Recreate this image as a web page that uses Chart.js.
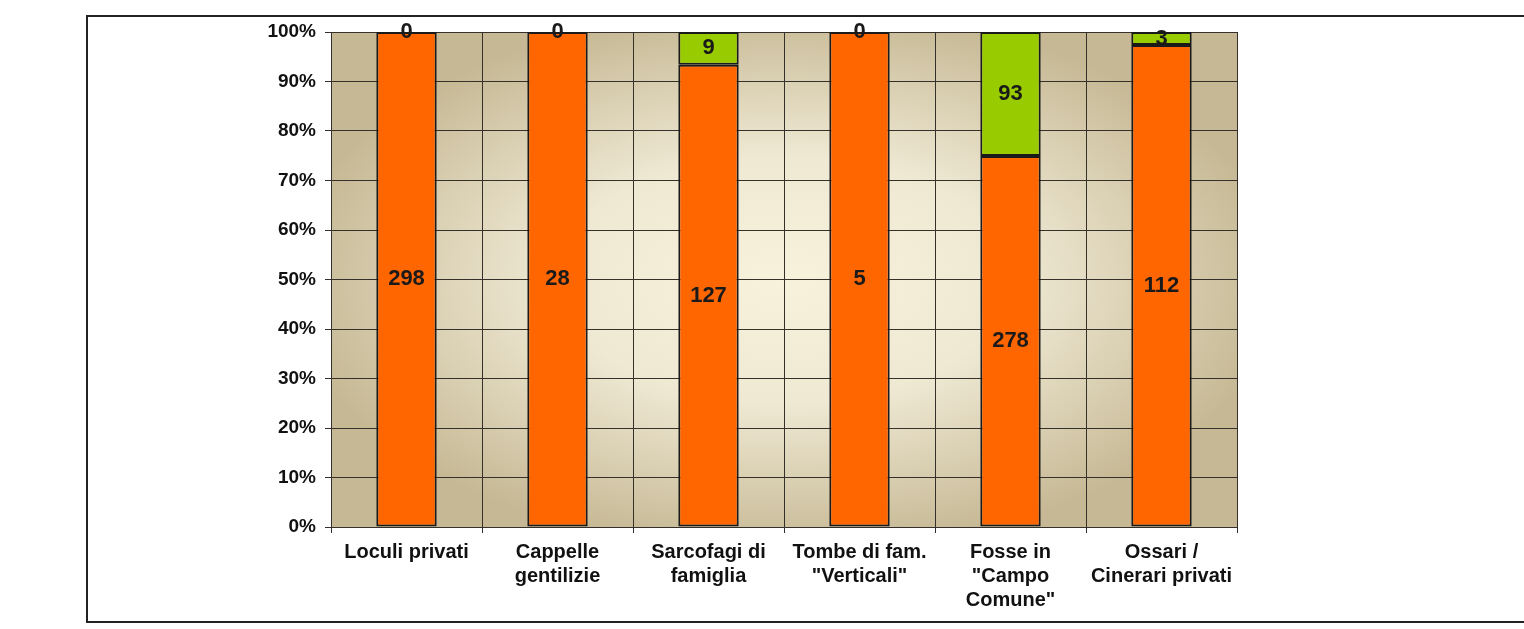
<!DOCTYPE html>
<html>
<head>
<meta charset="utf-8">
<script src="https://cdn.jsdelivr.net/npm/chart.js@4.4.1/dist/chart.umd.min.js"></script>
<style>
  html, body { margin: 0; padding: 0; background: #fff; overflow: hidden; }
  #wrap { position: relative; width: 1524px; height: 629px; }
  #frame { position: absolute; left: 86px; top: 15px; width: 1500px; height: 604px;
           border: 2px solid #222; border-right: none; }
  #myStackChart { position: absolute; left: 0; top: 0; }
</style>
</head>
<body>
<div id="wrap">
  <div id="frame"></div>
  <canvas id="myStackChart" width="1524" height="629"></canvas>
</div>
<script>
var xValues = [
    ["Loculi privati"],
    ["Cappelle", "gentilizie"],
    ["Sarcofagi di", "famiglia"],
    ["Tombe di fam.", "\"Verticali\""],
    ["Fosse in", "\"Campo", "Comune\""],
    ["Ossari /", "Cinerari privati"]
];
var orangeValues = [298, 28, 127, 5, 278, 112];
var greenValues = [0, 0, 9, 0, 93, 3];
var yTicks = [0, 10, 20, 30, 40, 50, 60, 70, 80, 90, 100];

// share of each column, in percent
function toPct(vals) {
    return vals.map(function (v, i) {
        return v / (orangeValues[i] + greenValues[i]) * 100;
    });
}

var rawValues = [orangeValues, greenValues];
var fontName = "'Liberation Sans', Arial, sans-serif";

// beige radial fill behind the plot
var bgPlugin = {
    id: "bgFill",
    beforeDraw: function (chart) {
        var a = chart.chartArea;
        var c = chart.ctx;
        var cx = (a.left + a.right) / 2;
        var cy = (a.top + a.bottom) / 2;
        var rx = (a.right - a.left) / 2;
        var ry = (a.bottom - a.top) / 2;
        c.save();
        c.beginPath();
        c.rect(a.left, a.top, a.right - a.left, a.bottom - a.top);
        c.clip();
        c.translate(cx, cy);
        c.scale(1, ry / rx);
        var g = c.createRadialGradient(0, 0, 0, 0, 0, rx * 1.1);
        g.addColorStop(0, "#f8f1dc");
        g.addColorStop(0.45, "#efe9d4");
        g.addColorStop(1, "#c6b894");
        c.fillStyle = g;
        c.fillRect(-rx * 1.2, -rx * 1.2, rx * 2.4, rx * 2.4);
        c.restore();
    }
};

// numbers in the middle of each piece
var labelPlugin = {
    id: "segLabels",
    afterDatasetsDraw: function (chart) {
        var c = chart.ctx;
        c.save();
        c.font = "bold 22px " + fontName;
        c.fillStyle = "#1a1a1a";
        c.textAlign = "center";
        c.textBaseline = "middle";
        chart.data.datasets.forEach(function (ds, di) {
            chart.getDatasetMeta(di).data.forEach(function (el, i) {
                var y = (el.y + el.base) / 2;
                c.fillText(String(rawValues[di][i]), el.x, y);
            });
        });
        c.restore();
    }
};

new Chart("myStackChart", {
    type: "bar",
    data: {
        labels: xValues,
        datasets: [{
            data: toPct(orangeValues),
            backgroundColor: "#ff6600",
            borderColor: "#1a1a1a",
            borderWidth: 2,
            borderSkipped: false,
            barPercentage: 0.4,
            categoryPercentage: 1
        }, {
            data: toPct(greenValues),
            backgroundColor: "#99cc00",
            borderColor: "#1a1a1a",
            borderWidth: 2,
            borderSkipped: false,
            barPercentage: 0.4,
            categoryPercentage: 1
        }]
    },
    options: {
        responsive: false,
        animation: false,
        layout: { padding: { left: 230, top: 32, right: 287, bottom: 0 } },
        plugins: {
            legend: { display: false },
            tooltip: { enabled: false }
        },
        scales: {
            x: {
                stacked: true,
                grid: { color: "#35302a", lineWidth: 1, tickLength: 6, offset: true },
                border: { color: "#35302a", width: 1 },
                ticks: {
                    color: "#111",
                    padding: 7,
                    maxRotation: 0,
                    autoSkip: false,
                    font: { family: fontName, size: 20, weight: "bold", lineHeight: 1.2 }
                },
                afterFit: function (s) { s.height = 102; }
            },
            y: {
                stacked: true,
                min: 0,
                max: 100,
                afterBuildTicks: function (s) {
                    s.ticks = yTicks.map(function (v) { return { value: v }; });
                },
                grid: { color: "#35302a", lineWidth: 1, tickLength: 6 },
                border: { color: "#35302a", width: 1 },
                ticks: {
                    color: "#111",
                    padding: 9,
                    callback: function (v) { return v + "%"; },
                    font: { family: fontName, size: 19, weight: "bold" }
                },
                afterFit: function (s) { s.width = 101; }
            }
        }
    },
    plugins: [bgPlugin, labelPlugin]
});
</script>
</body>
</html>
